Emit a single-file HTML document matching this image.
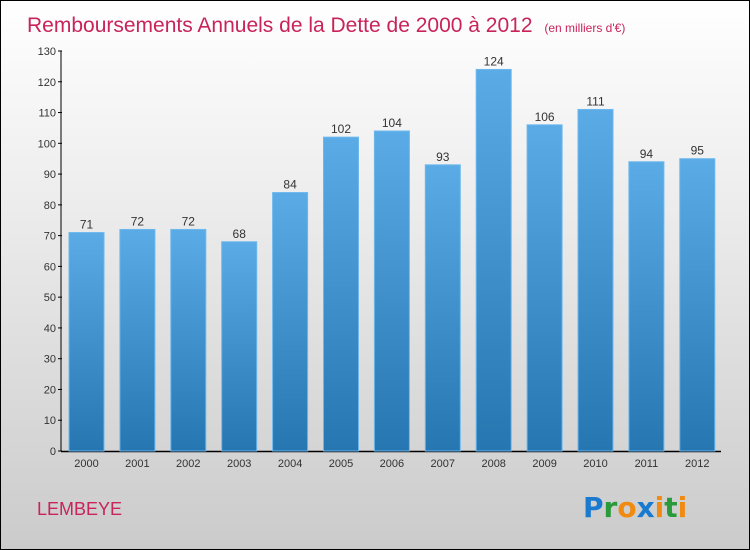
<!DOCTYPE html>
<html><head><meta charset="utf-8"><style>
body{margin:0}
#wrap{position:relative;width:748px;height:548px;border:1px solid #000;background:linear-gradient(#fff 0%,#f0f0f0 30%,#cbcbcb 100%);font-family:"Liberation Sans",sans-serif;overflow:hidden}
svg{position:absolute;left:0;top:0}
</style></head><body>
<div id="wrap">
<svg id="c" width="750" height="550">
<defs><linearGradient id="g" x1="0" y1="0" x2="0" y2="1"><stop offset="0" stop-color="#5aabe6"/><stop offset="1" stop-color="#2676b1"/></linearGradient></defs>
<text x="26" y="31" font-size="21" fill="#c8245a">Remboursements Annuels de la Dette de 2000 à 2012 <tspan font-size="12" dx="6">(en milliers d'€)</tspan></text>
<text x="36" y="514" font-size="18" fill="#c8245a">LEMBEYE</text>
<text x="582" y="516" font-size="28" font-weight="bold" font-family="'DejaVu Sans',sans-serif"><tspan fill="#1a7ad0">P</tspan><tspan fill="#2a9a3a">r</tspan><tspan fill="#f08a10">o</tspan><tspan fill="#1a7ad0">x</tspan><tspan fill="#f08a10">i</tspan><tspan fill="#2a9a3a">t</tspan><tspan fill="#f08a10">i</tspan></text>
<g id="plot"></g>
</svg>
</div>
<script>
const years=["2000","2001","2002","2003","2004","2005","2006","2007","2008","2009","2010","2011","2012"];
const values=[71,72,72,68,84,102,104,93,124,106,111,94,95];
const yTicks=[0,10,20,30,40,50,60,70,80,90,100,110,120,130];
const NS="http://www.w3.org/2000/svg";
const g=document.getElementById('plot');
const y=v=>450-v*400/130;
const x=i=>85.5+i*50.9;
function mk(t,a){const e=document.createElementNS(NS,t);for(const k in a)e.setAttribute(k,a[k]);g.appendChild(e);return e;}
let ax=mk('line',{x1:60,y1:y(130),x2:60,y2:450,stroke:'#000','stroke-width':1});


let bx=mk('line',{x1:60,y1:450.5,x2:720,y2:450.5,stroke:'#000','stroke-width':1.5});


yTicks.forEach(v=>{
 let t=mk('line',{x1:57,y1:y(v),x2:61,y2:y(v),stroke:'#000'});
 
 
 let l=mk('text',{x:55,y:y(v)+4,'font-size':11,'text-anchor':'end',fill:'#333'});
 l.textContent=v;
 
 
});
values.forEach((v,i)=>{
 let r=mk('rect',{x:x(i)-17.5,y:y(v),width:35,height:450-y(v),fill:'url(#g)',stroke:'#6cb8ee','stroke-width':1});
 
 
 let l=mk('text',{x:x(i),y:y(v)-4,'font-size':12,'text-anchor':'middle',fill:'#333'});
 l.textContent=v;
 
 
 let xl=mk('text',{x:x(i),y:466,'font-size':11,'text-anchor':'middle',fill:'#333'});
 xl.textContent=years[i];
 
 
});
</script>
</body></html>
